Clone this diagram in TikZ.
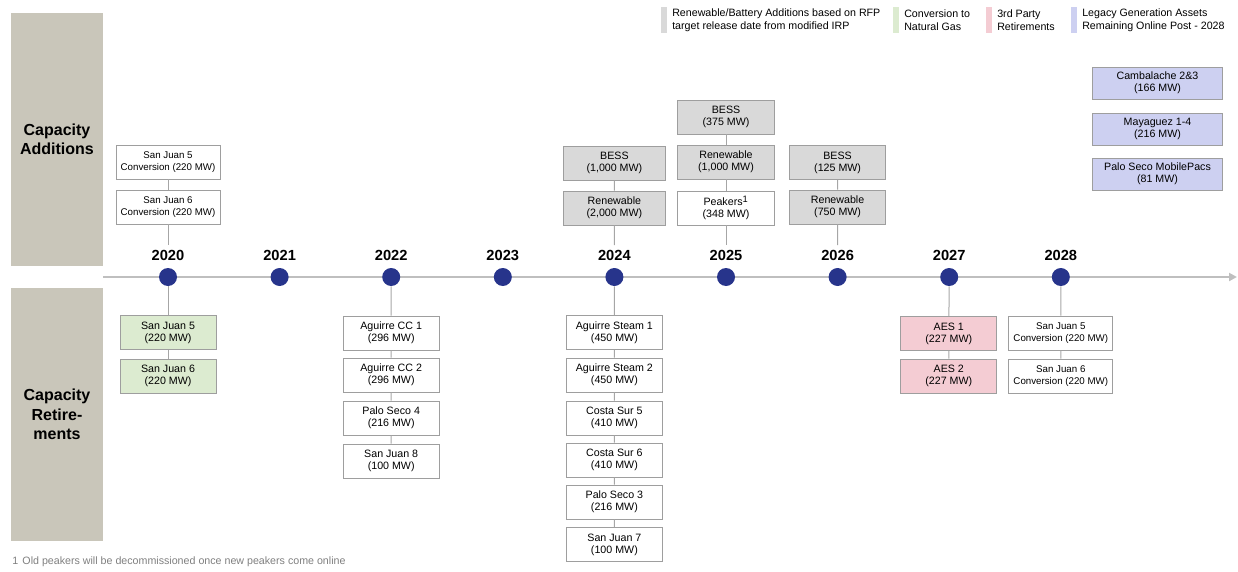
\documentclass[tikz,border=0pt]{standalone}
\usepackage{fontspec}
\setmainfont{Liberation Sans}
\usepackage{xcolor}
\usepackage{tikz}
\usetikzlibrary{arrows.meta}
\definecolor{panelbg}{HTML}{C9C6BA}
\definecolor{navy}{HTML}{27348B}
\definecolor{axisgray}{HTML}{BFBFBF}
\definecolor{connline}{HTML}{A6A6A6}
\definecolor{boxline}{HTML}{9E9E9E}
\definecolor{rfpgray}{HTML}{D9D9D9}
\definecolor{gasgreen}{HTML}{DCEBD0}
\definecolor{thirdpink}{HTML}{F4CCD3}
\definecolor{legacyblue}{HTML}{CDD0F1}
\definecolor{footgray}{HTML}{7F7F7F}
\tikzset{
  panel/.style={fill=panelbg, minimum width=69pt, minimum height=189.75pt, inner sep=0pt,
    align=center, font=\fontsize{12}{14.5}\selectfont\bfseries},
  axis/.style={draw=axisgray, line width=1.5pt, -{Triangle[length=6pt,width=6pt]}},
  dot/.style={circle, fill=navy, minimum size=13.5pt, inner sep=0pt},
  yr/.style={font=\fontsize{11}{13}\selectfont\bfseries},
  box/.style={draw=boxline, line width=0.6pt, fill=white, align=center, inner sep=1pt,
    minimum width=72pt, minimum height=25.5pt, font=\fontsize{8}{9}\selectfont},
  wide/.style={minimum width=78pt},
  narrow/.style={font=\fontsize{7.3}{9}\selectfont},
  rfp/.style={box, fill=rfpgray},
  gas/.style={box, fill=gasgreen},
  third/.style={box, fill=thirdpink},
  legacy/.style={box, fill=legacyblue, minimum width=98pt, minimum height=24pt},
  conn/.style={draw=connline, line width=0.75pt},
  swatch/.style={minimum width=4.5pt, minimum height=19.5pt, inner sep=0pt},
  keytxt/.style={anchor=west, inner sep=0pt, align=left, font=\fontsize{8}{9.75}\selectfont},
  foot/.style={anchor=west, inner sep=0pt, text=footgray, font=\fontsize{8}{9}\selectfont},
}
\begin{document}
\begin{tikzpicture}[x=0.75pt,y=-0.75pt]
  \useasboundingbox (0,0) rectangle (1238,571);

  % side panels
  \node[panel] (padd) at (57,139.5) {Capacity\\Additions};
  \node[panel] (pret) at (57,414.5) {Capacity\\Retire-\\ments};

  % legend
  \node[swatch, fill=rfpgray] (k1) at (664,20) {};
  \node[keytxt] (k1t) at (672,20) {Renewable/Battery Additions based on RFP\\target release date from modified IRP};
  \node[swatch, fill=gasgreen] (k2) at (896,20) {};
  \node[keytxt] (k2t) at (904,20) {Conversion to\\Natural Gas};
  \node[swatch, fill=thirdpink] (k3) at (988.5,20) {};
  \node[keytxt] (k3t) at (997,20) {3rd Party\\Retirements};
  \node[swatch, fill=legacyblue] (k4) at (1073.5,20) {};
  \node[keytxt] (k4t) at (1082,20) {Legacy Generation Assets\\Remaining Online Post - 2028};

  % timeline
  \coordinate (tstart) at (103,277);
  \coordinate (tend) at (1237,277);
  \draw[axis] (tstart) -- (tend);
  \foreach \yr [count=\i from 0] in {2020,...,2028} {
    \node[dot] (d\yr) at ({168+111.6*\i},277) {};
    \node[yr] (y\yr) at ({168+111.6*\i},255) {\yr};
  }

  % additions
  \node[box,wide,narrow] (a20a) at (168,162) {San Juan 5\\Conversion (220 MW)};
  \node[box,wide,narrow] (a20b) at (168,207) {San Juan 6\\Conversion (220 MW)};
  \node[rfp, minimum width=76.5pt] (a24a) at (614.4,163) {BESS\\(1,000 MW)};
  \node[rfp, minimum width=76.5pt] (a24b) at (614.4,208) {Renewable\\(2,000 MW)};
  \node[rfp, minimum width=73pt] (a25a) at (726,117) {BESS\\(375 MW)};
  \node[rfp, minimum width=73pt] (a25b) at (726,162) {Renewable\\(1,000 MW)};
  \node[box, minimum width=73pt] (a25c) at (726,208) {Peakers\textsuperscript{\scriptsize 1}\\(348 MW)};
  \node[rfp] (a26a) at (837.6,162.5) {BESS\\(125 MW)};
  \node[rfp] (a26b) at (837.6,207) {Renewable\\(750 MW)};

  \draw[conn] (a20a) -- (a20b) -- (y2020);
  \draw[conn] (a24a) -- (a24b) -- (y2024);
  \draw[conn] (a25a) -- (a25b) -- (a25c) -- (y2025);
  \draw[conn] (a26a) -- (a26b) -- (y2026);

  % legacy assets
  \node[legacy] (l1) at (1157.5,83) {Cambalache 2\&3\\(166 MW)};
  \node[legacy] (l2) at (1157.5,129) {Mayaguez 1-4\\(216 MW)};
  \node[legacy] (l3) at (1157.5,174) {Palo Seco MobilePacs\\(81 MW)};

  % retirements
  \node[gas] (r20a) at (168,332.5) {San Juan 5\\(220 MW)};
  \node[gas] (r20b) at (168,376) {San Juan 6\\(220 MW)};
  \node[box] (r22a) at (391.2,333) {Aguirre CC 1\\(296 MW)};
  \node[box] (r22b) at (391.2,375) {Aguirre CC 2\\(296 MW)};
  \node[box] (r22c) at (391.2,418) {Palo Seco 4\\(216 MW)};
  \node[box] (r22d) at (391.2,461) {San Juan 8\\(100 MW)};
  \node[box] (r24a) at (614.4,332.5) {Aguirre Steam 1\\(450 MW)};
  \node[box] (r24b) at (614.4,375) {Aguirre Steam 2\\(450 MW)};
  \node[box] (r24c) at (614.4,418) {Costa Sur 5\\(410 MW)};
  \node[box] (r24d) at (614.4,460) {Costa Sur 6\\(410 MW)};
  \node[box] (r24e) at (614.4,502) {Palo Seco 3\\(216 MW)};
  \node[box] (r24f) at (614.4,544.5) {San Juan 7\\(100 MW)};
  \node[third] (r27a) at (948.8,333.5) {AES 1\\(227 MW)};
  \node[third] (r27b) at (948.8,376) {AES 2\\(227 MW)};
  \node[box,wide,narrow] (r28a) at (1060.8,333) {San Juan 5\\Conversion (220 MW)};
  \node[box,wide,narrow] (r28b) at (1060.8,376) {San Juan 6\\Conversion (220 MW)};

  \draw[conn] (d2020) -- (r20a) -- (r20b);
  \draw[conn] (d2022) -- (r22a) -- (r22b) -- (r22c) -- (r22d);
  \draw[conn] (d2024) -- (r24a) -- (r24b) -- (r24c) -- (r24d) -- (r24e) -- (r24f);
  \draw[conn] (d2027) -- (r27a) -- (r27b);
  \draw[conn] (d2028) -- (r28a) -- (r28b);

  \node[foot] (fn) at (12,562) {1\hspace{0.4em}Old peakers will be decommissioned once new peakers come online};
\end{tikzpicture}
\end{document}
